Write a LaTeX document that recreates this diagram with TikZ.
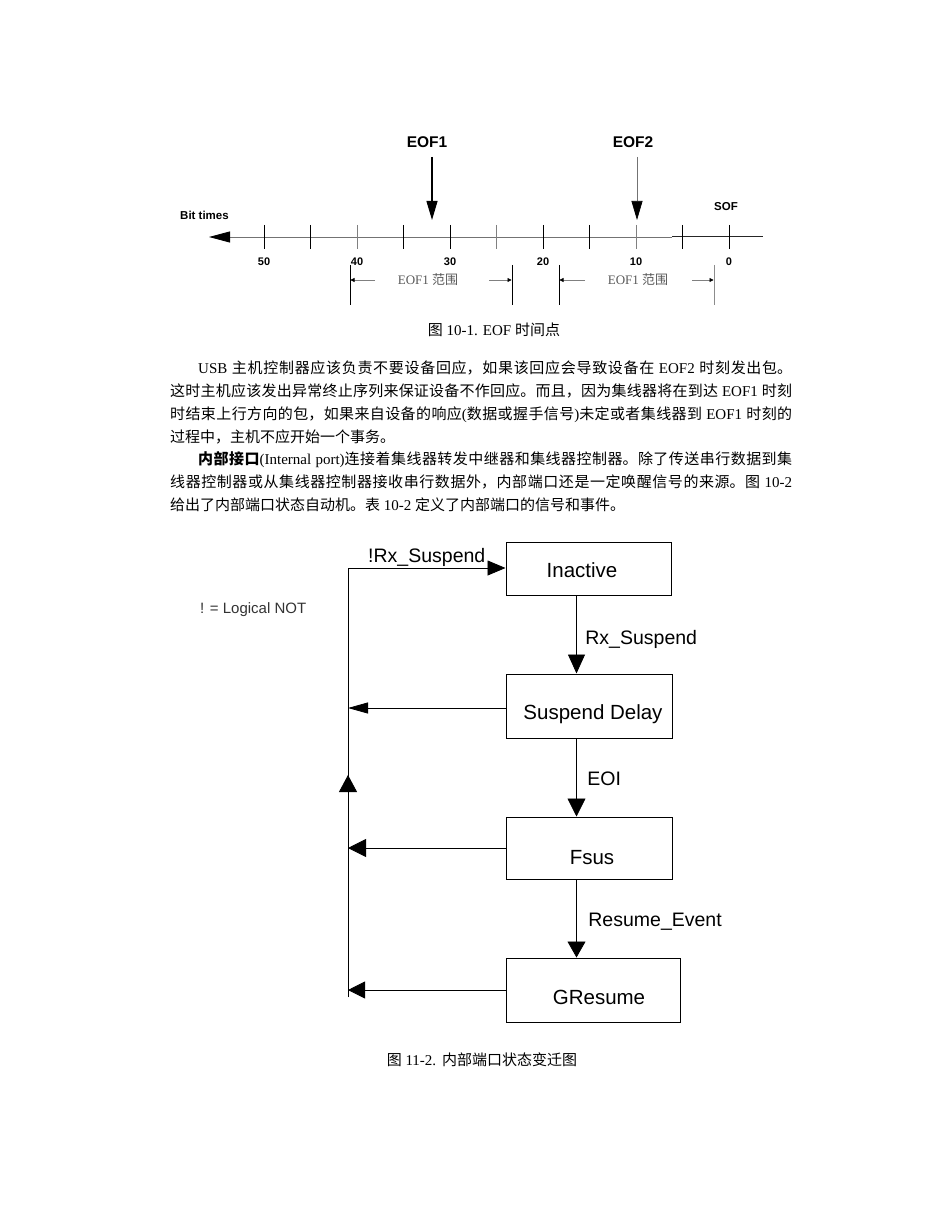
\documentclass[tikz,border=0pt]{standalone}
\usepackage{fontspec}
\setmainfont{Liberation Serif}
\newfontfamily\cjk{Noto Sans CJK SC}
\newfontfamily\arial{Liberation Sans}
\usetikzlibrary{arrows.meta}
\newcommand\zh[1]{{\cjk #1}}
\newcommand\inbox[3]{\makebox[0pt]{\hspace*{#1}\raisebox{#2}[0pt][0pt]{#3}}}
\tikzset{
  bigtxt/.style={font=\arial\bfseries\fontsize{15.5pt}{18pt}\selectfont, inner sep=0},
  smalltxt/.style={font=\arial\bfseries\fontsize{11.5pt}{14pt}\selectfont, inner sep=0},
  ticklbl/.style={font=\arial\bfseries\fontsize{11pt}{13pt}\selectfont, inner sep=0},
  rng/.style={font=\fontsize{13pt}{15pt}\selectfont, text=black!65, inner sep=0},
  captxt/.style={font=\fontsize{15pt}{18pt}\selectfont, inner sep=0},
  brk/.style={black!50, line width=0.6pt, -{Triangle[length=4pt,width=4pt,color=black]}},
  statebox/.style={draw, line width=1pt, inner sep=0, font=\arial\fontsize{20.5pt}{24pt}\selectfont},
  lbl/.style={font=\arial\fontsize{19.5pt}{22pt}\selectfont, inner sep=0},
  wire/.style={line width=0.8pt},
}
\begin{document}
\begin{tikzpicture}[x=1pt,y=-1pt]
\fill[white] (0,0) rectangle (950,1230);
\useasboundingbox (0,0) rectangle (950,1230);

% ---------------- timeline ----------------
\node[bigtxt] (eof1) at (427,142) {EOF1};
\node[bigtxt] (eof2) at (633,142) {EOF2};
\coordinate (e1top) at (432,157);
\coordinate (e1tip) at (432,220);
\coordinate (e2top) at (637,157);
\coordinate (e2tip) at (637,220);
\draw[line width=1.1pt, -{Triangle[length=19pt,width=11pt]}] (e1top) -- (e1tip);
\draw[black!55, line width=0.7pt, -{Triangle[length=19pt,width=11pt,color=black]}] (e2top) -- (e2tip);

\node[smalltxt, anchor=west] (bt) at (180,215) {Bit times};
\node[smalltxt] (sof) at (726,207) {SOF};

\coordinate (axl) at (209,237);
\coordinate (axm) at (672,237);
\coordinate (axm2) at (672,236);
\coordinate (axr) at (763,236);
\draw[black!55, line width=0.8pt, -{Triangle[length=21pt,width=11pt,color=black]}] (axm) -- (axl);
\draw[black!85, line width=0.8pt] (axm2) -- (axr);

\foreach \v/\c in {50/black,45/black,40/black!50,35/black,30/black,25/black!50,20/black,15/black,10/black!50,5/black,0/black}
  \draw[\c, line width=0.8pt] ({729-9.3*\v},225) -- ({729-9.3*\v},249);
\foreach \v in {50,40,30,20,10,0}
  \node[ticklbl] (tl\v) at ({729-9.3*\v},262) {\v};

\foreach \x/\c in {350/black,512/black,559/black,714/black!45}
  \draw[\c, line width=0.8pt] (\x,265) -- (\x,305);
\draw[brk] (375,280) -- (350.5,280);
\draw[brk] (489,280) -- (511.5,280);
\draw[brk] (585,280) -- (559.5,280);
\draw[brk] (692,280) -- (713.5,280);
\node[rng] (r1) at (428,280) {EOF1 \zh{范围}};
\node[rng] (r2) at (638,280) {EOF1 \zh{范围}};

\node[captxt] (cap1) at (494,330) {\zh{图} 10-1. EOF \zh{时间点}};

% ---------------- body text ----------------
\node[anchor=north west, inner sep=0, text width=622pt, align=justify,
      font=\fontsize{15pt}{22.8pt}\selectfont] (body) at (170,357.5)
{\XeTeXlinebreaklocale "zh"\XeTeXlinebreakskip=0pt plus 1.5pt\relax\parskip=0pt\tolerance=10000\relax
\rule{0pt}{16pt}\hspace*{28pt}USB \zh{主机控制器应该负责不要设备回应，如果该回应会导致设备在} EOF2 \zh{时刻发出包。}\linebreak
\zh{这时主机应该发出异常终止序列来保证设备不作回应。而且，因为集线器将在到达} EOF1 \zh{时刻}\linebreak
\zh{时结束上行方向的包，如果来自设备的响应}(\zh{数据或握手信号})\zh{未定或者集线器到} EOF1 \zh{时刻的}\linebreak
\zh{过程中，主机不应开始一个事务。}\par
\hspace*{28pt}{\cjk\bfseries 内部接口}(Internal port)\zh{连接着集线器转发中继器和集线器控制器。除了传送串行数据到集}\linebreak
\zh{线器控制器或从集线器控制器接收串行数据外，内部端口还是一定唤醒信号的来源。图} 10-2\linebreak
\zh{给出了内部端口状态自动机。表} 10-2 \zh{定义了内部端口的信号和事件。}\par};

% ---------------- state diagram ----------------
\node[statebox, minimum width=165pt, minimum height=53pt] (inactive) at (588.5,568.5) {\inbox{-13pt}{-8.9pt}{Inactive}};
\node[statebox, minimum width=166pt, minimum height=64pt] (sdelay) at (589,706) {\inbox{8pt}{-13.4pt}{Suspend Delay}};
\node[statebox, minimum width=166pt, minimum height=62pt] (fsus) at (589,848) {\inbox{6pt}{-16.4pt}{Fsus}};
\node[statebox, minimum width=174pt, minimum height=64pt] (gresume) at (593,990) {\inbox{12pt}{-14.4pt}{GResume}};

\node[font=\arial\fontsize{15pt}{18pt}\selectfont, text=black!80, inner sep=0, anchor=west] (note) at (200,610) {! = Logical NOT};

\coordinate (vx) at (576.5,0);
\draw[wire, -{Triangle[length=19pt,width=17pt]}] (vx |- inactive.south) -- (vx |- sdelay.north)
  node[midway, lbl, anchor=west, xshift=8.5pt, yshift=-4.5pt] (l1) {Rx\_Suspend};
\draw[wire, -{Triangle[length=18pt,width=18pt]}] (vx |- sdelay.south) -- (vx |- fsus.north)
  node[midway, lbl, anchor=west, xshift=10.5pt, yshift=-1.5pt] (l2) {EOI};
\draw[wire, -{Triangle[length=16pt,width=18pt]}] (vx |- fsus.south) -- (vx |- gresume.north)
  node[midway, lbl, anchor=west, xshift=11.5pt, yshift=-3.5pt] (l3) {Resume\_Event};

\coordinate (lt) at (348,568);
\coordinate (lb) at (348,997);
\coordinate (up) at (348,775);
\draw[wire] (lb) -- (lt);
\draw[wire, -{Triangle[length=17pt,width=18pt]}] (lb) -- (up);
\draw[wire, -{Triangle[length=18pt,width=15pt]}] (lt) -- (lt -| inactive.west)
  node[midway, lbl, anchor=base, yshift=6pt] (l0) {!Rx\_Suspend};

\draw[wire, -{Triangle[length=20pt,width=11pt]}] ([yshift=-2pt]sdelay.west) -- ([yshift=-2pt]sdelay.west -| lt);
\draw[wire, -{Triangle[length=18pt,width=18pt]}] (fsus.west) -- (fsus.west -| lt);
\draw[wire, -{Triangle[length=17pt,width=17pt]}] (gresume.west) -- (gresume.west -| lt);

\node[captxt] (cap2) at (482,1060) {\zh{图} 11-2.\hspace{6pt}\zh{内部端口状态变迁图}};
\end{tikzpicture}
\end{document}
